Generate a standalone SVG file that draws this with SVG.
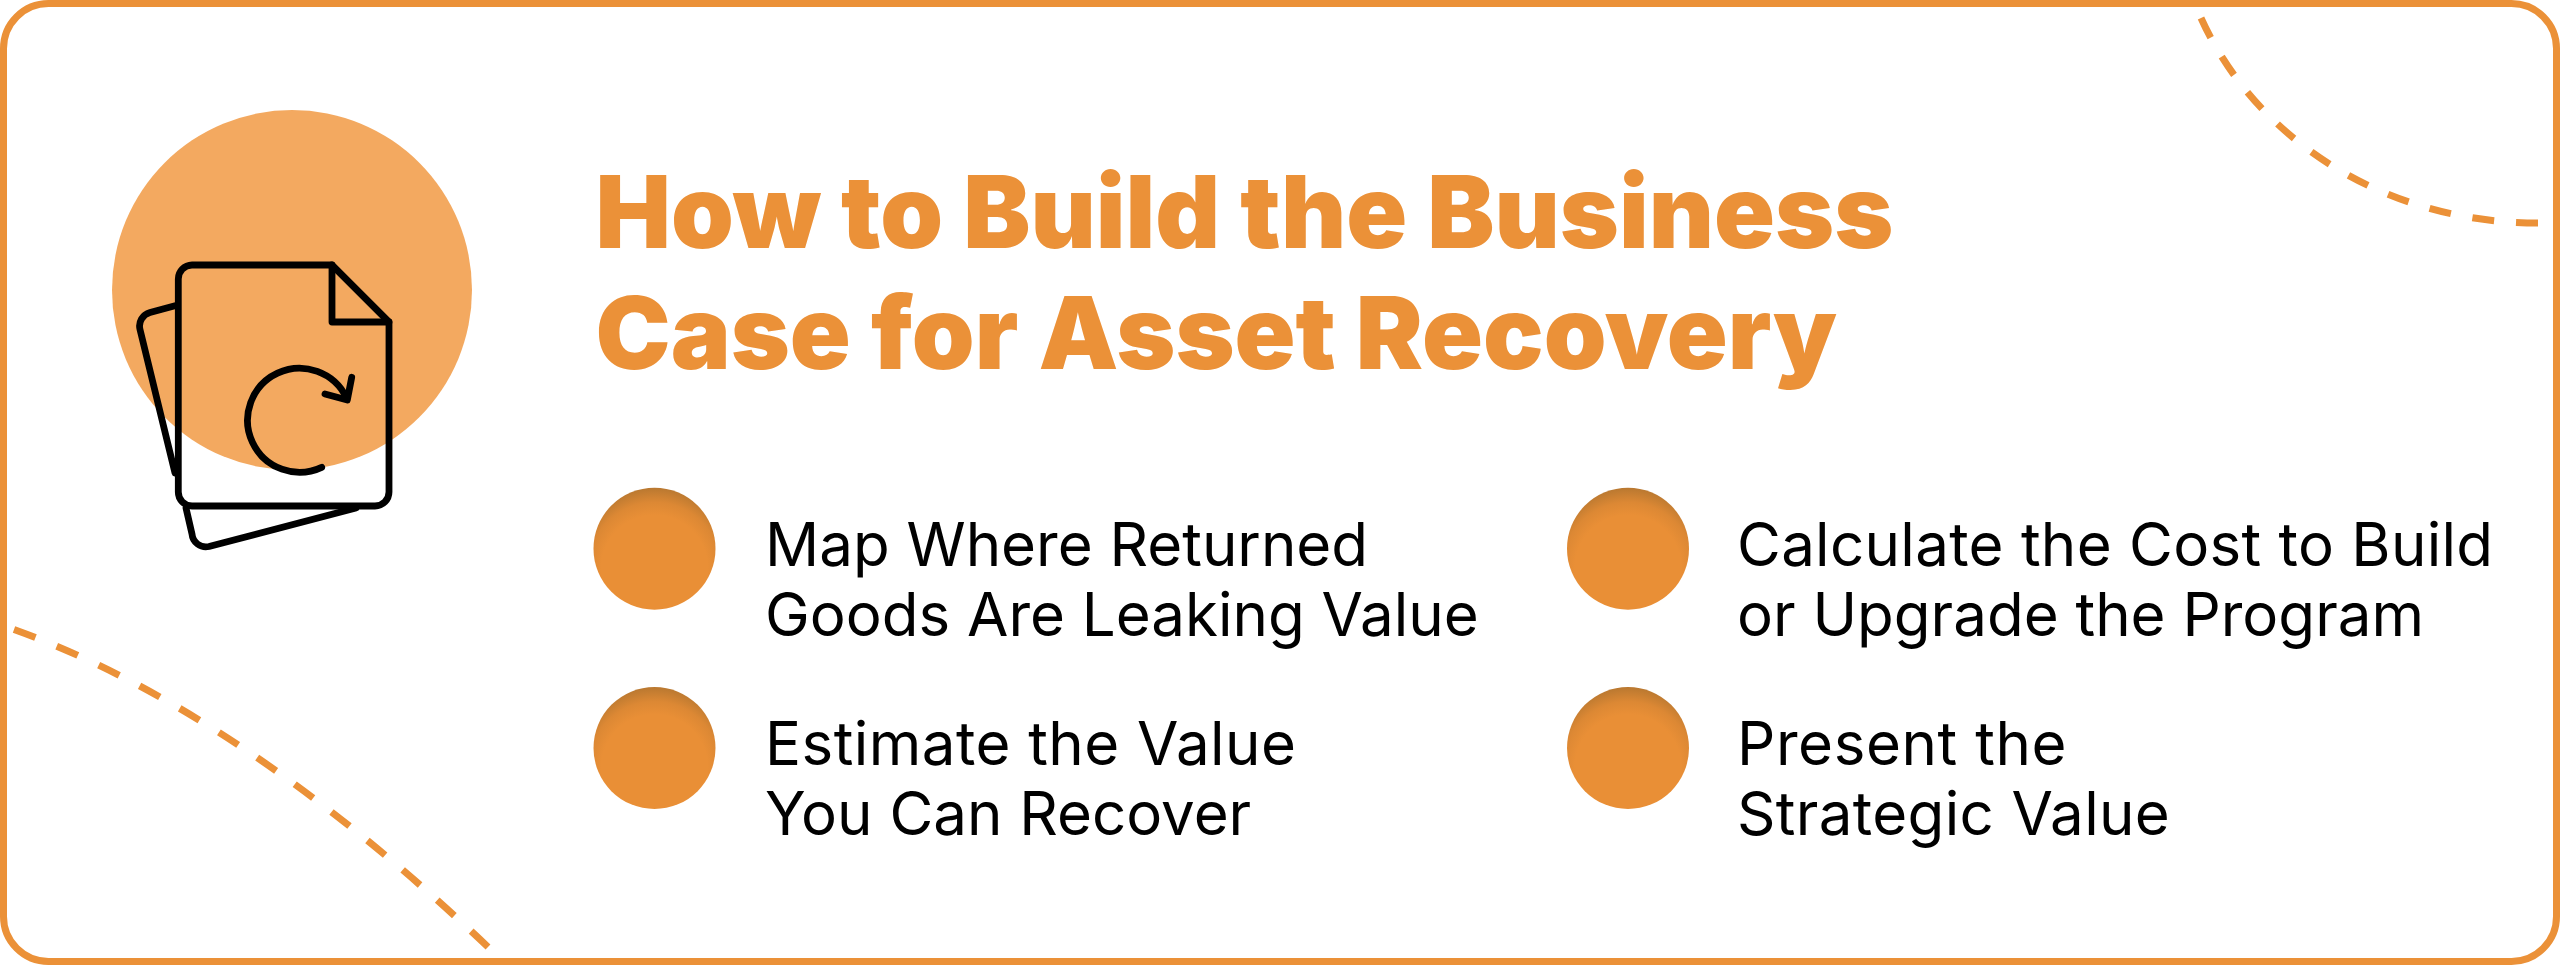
<svg xmlns="http://www.w3.org/2000/svg" width="2560" height="965" viewBox="0 0 2560 965">
<defs>
<radialGradient id="dotfill" cx="0.5" cy="0.66" r="0.66">
<stop offset="0.66" stop-color="#E98F36"/>
<stop offset="0.82" stop-color="#DC8834"/>
<stop offset="1" stop-color="#B97830"/>
</radialGradient>
</defs>
<style>
.title{font-family:Inter,"Liberation Sans",sans-serif;font-weight:900;font-size:100.6px;fill:#EB9138}
.body{font-family:Inter,"Liberation Sans",sans-serif;font-weight:400;font-size:60px;fill:#000}
.dot{fill:url(#dotfill)}
.dash{fill:none;stroke:#EB9138;stroke-width:7;stroke-dasharray:1 1}
.ink{fill:none;stroke:#000;stroke-width:6.800;stroke-linecap:round;stroke-linejoin:round}
</style>
<rect width="2560" height="965" fill="#fff"/>
<rect x="3.5" y="3.5" width="2553" height="958" rx="45" fill="#fff" stroke="#EB9138" stroke-width="7"/>
<g id="connectors">
<path class="dash" pathLength="19" d="M2201 18C2254.6 137 2382 223 2538 223"/>
<path class="dash" pathLength="25" d="M14 629.5Q239 710.6 488 947"/>
</g>
<g id="icon">
<circle cx="292" cy="290" r="180" fill="#F3A960"/>
<path class="ink" d="M175 305.700L150 312.500A14 14 0 0 0 140 329.500L175 473M186 508L192 534A14 14 0 0 0 209 546.500L356 508"/>
<path class="ink" d="M332 265H192A14 14 0 0 0 178.300 279V492A14 14 0 0 0 192 506H375A14 14 0 0 0 389 492V322Z"/>
<path class="ink" d="M332 265V322H389"/>
<path class="ink" d="M321.700 467.300A52 52 0 1 1 346.700 398.300"/>
<path class="ink" d="M325 394L347.300 400L351.700 377.300"/>
</g>
<g id="title">
<text class="title" x="595.500" y="247.500">How to Build the Business</text>
<text class="title" x="595.500" y="368.500">Case for Asset Recovery</text>
</g>
<g id="item-1"><circle class="dot" cx="654.500" cy="548.700" r="61"/><text class="body" x="765" y="566">Map Where Returned</text><text class="body" x="765" y="636">Goods Are Leaking Value</text></g>
<g id="item-2"><circle class="dot" cx="654.500" cy="748" r="61"/><text class="body" x="765" y="765" letter-spacing="0.47">Estimate the Value</text><text class="body" x="765" y="835">You Can Recover</text></g>
<g id="item-3"><circle class="dot" cx="1628" cy="548.700" r="61"/><text class="body" x="1737" y="566" letter-spacing="0.3">Calculate the Cost to Build</text><text class="body" x="1737" y="636">or Upgrade the Program</text></g>
<g id="item-4"><circle class="dot" cx="1628" cy="748" r="61"/><text class="body" x="1737" y="765" letter-spacing="0.6">Present the</text><text class="body" x="1737" y="835" letter-spacing="0.35">Strategic Value</text></g>
</svg>
